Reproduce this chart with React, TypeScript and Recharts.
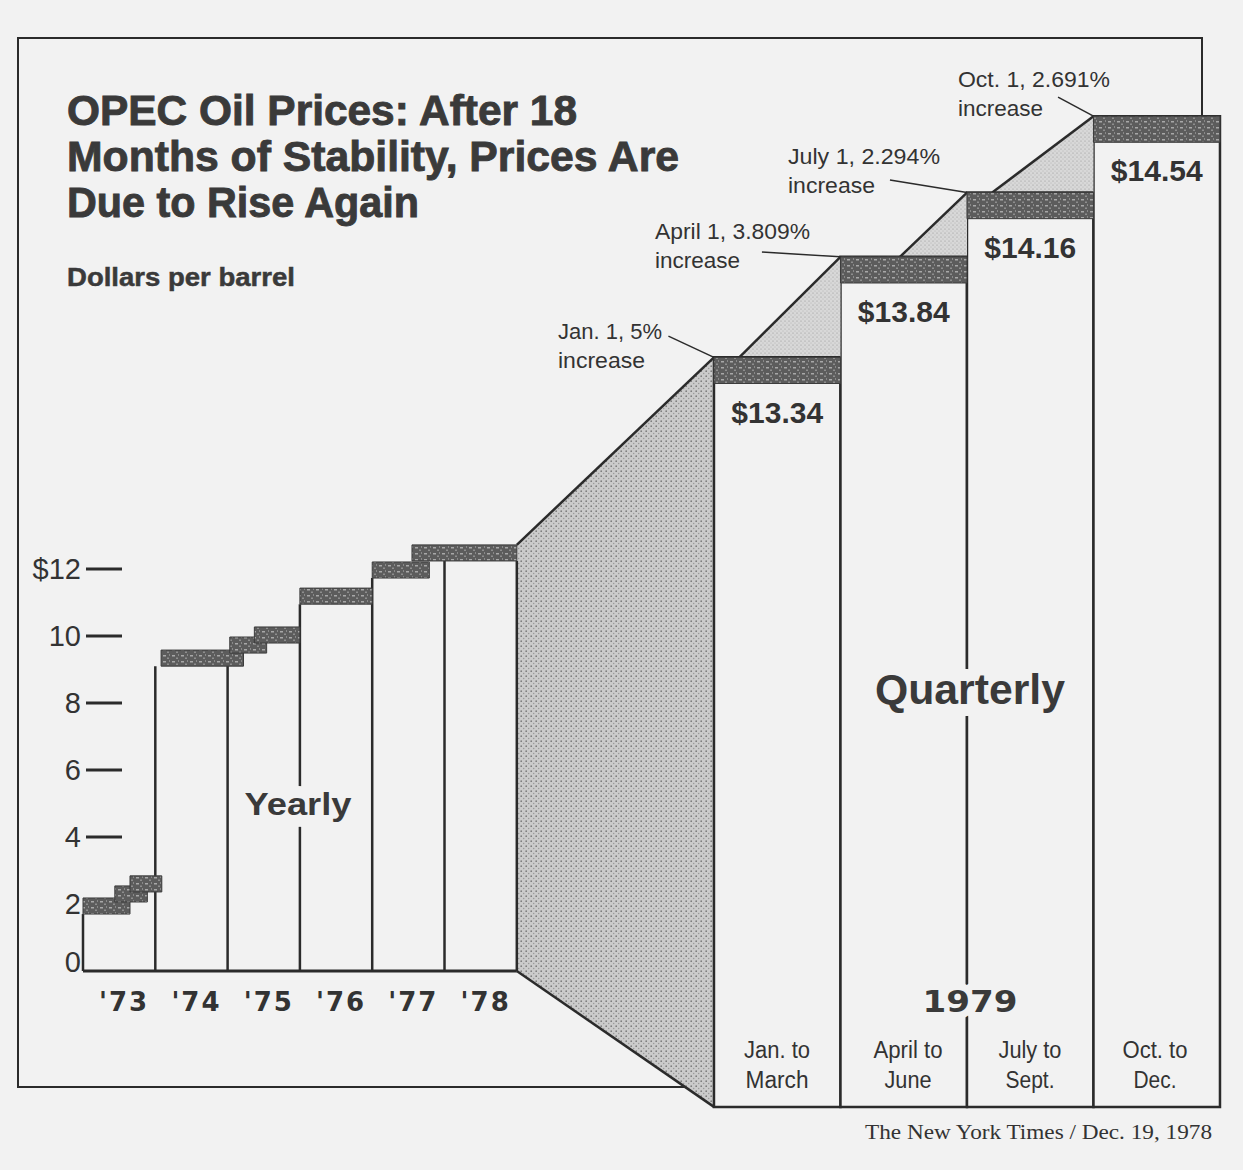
import React from 'react';
import {
  ComposedChart,
  XAxis,
  YAxis,
  Area,
  ReferenceArea,
  ReferenceLine,
} from 'recharts';

const W = 1243;
const H = 1170;
const BG = '#f2f2f2';
const INK = '#2b2b2b';
const TEXT = '#333333';
const SANS = "'Liberation Sans', Arial, sans-serif";
const NARROW = "'Liberation Sans Narrow', 'Liberation Sans', Arial, sans-serif";
const WIDE = "'DejaVu Sans', Verdana, sans-serif";
const SERIF = "'Liberation Serif', 'DejaVu Serif', serif";

// yearly panel, dollars per barrel
const YEARS = [1973, 1974, 1975, 1976, 1977, 1978];
const YEAR_LABELS = ["'73", "'74", "'75", "'76", "'77", "'78"];
const PRICE_TICKS = [0, 2, 4, 6, 8, 10, 12];

// price levels in the yearly panel (from / to as fractional years)
const STEP_FROM = [1973.0, 1973.44, 1973.65, 1974.08, 1975.03, 1975.37, 1976.0, 1977.0, 1977.55];
const STEP_TO = [1973.65, 1973.89, 1974.09, 1975.22, 1975.54, 1976.0, 1977.0, 1977.79, 1979.0];
const STEP_PRICE = [2.18, 2.54, 2.84, 9.58, 9.97, 10.27, 11.43, 12.21, 12.72];

// quarterly panel, 1979
const QUARTER_LABELS = [
  ['Jan. to', 'March'],
  ['April to', 'June'],
  ['July to', 'Sept.'],
  ['Oct. to', 'Dec.'],
];
const Q_PRICES = [13.34, 13.84, 14.16, 14.54];
const Q_PRICE_LABELS = ['$13.34', '$13.84', '$14.16', '$14.54'];
const Q_INCREASES = ['Jan. 1, 5%', 'April 1, 3.809%', 'July 1, 2.294%', 'Oct. 1, 2.691%'];
// where the drawn rise towards the next quarter starts (quarter units)
const Q_RAMP_FROM = [0.2, 1.47, 2.2];

// axis domains (the plot area is the whole picture)
const X_YR: [number, number] = [1971.852, 1989.044];
const Y_YR: [number, number] = [-5.94, 28.985];
const X_Q: [number, number] = [-5.644, 4.182];
const Y_Q: [number, number] = [9.297, 15.118];
const Q_BASE = 9.611;
const YR_BAND = 0.48;
const Q_BAND = 0.13;

const remap = (v: number, from: [number, number], to: [number, number]) =>
  to[0] + ((v - from[0]) * (to[1] - to[0])) / (from[1] - from[0]);

const edgeTop = (b: number) => {
  let top = 0;
  STEP_PRICE.forEach((p, i) => {
    if (STEP_FROM[i] - 0.1 <= b && b <= STEP_TO[i] + 0.001) top = Math.max(top, p - YR_BAND);
  });
  return top;
};

const EDGES = [...YEARS, 1979];

// wedge that links the last yearly level to the first quarter
const CONNECTOR = [
  { x: 1979, r: [0, STEP_PRICE[STEP_PRICE.length - 1]] },
  {
    x: remap(0, X_Q, X_YR),
    r: [remap(Q_BASE, Y_Q, Y_YR), remap(Q_PRICES[0], Y_Q, Y_YR)],
  },
];

const RAMPS = Q_RAMP_FROM.map((from, i) => [
  { x: from, r: [Q_PRICES[i], Q_PRICES[i]] },
  { x: i + 1, r: [Q_PRICES[i], Q_PRICES[i + 1]] },
]);

// annotation leader lines start here (quarter units)
const LEADER_FROM = [
  { x: -0.36, y: 13.446 },
  { x: 0.379, y: 13.864 },
  { x: 1.391, y: 14.222 },
  { x: 2.72, y: 14.635 },
];
const NOTE_POS = [
  { x: 558, y: 339, w: [104, 87] },
  { x: 655, y: 239, w: [155, 85] },
  { x: 788, y: 164, w: [152, 87] },
  { x: 958, y: 87, w: [152, 85] },
];
const QUARTER_TEXT = [
  { x: 777, w: [66, 63] },
  { x: 908, w: [69, 47] },
  { x: 1030, w: [63, 49] },
  { x: 1155, w: [65, 43] },
];

const renderPriceTick = (props: any) => {
  const { y, payload } = props;
  const v = payload.value as number;
  return (
    <g>
      <text
        x={81}
        y={y}
        dy={v === 0 ? 1 : 10}
        textAnchor="end"
        fontSize={29}
        fontFamily={NARROW}
        fill={TEXT}
      >
        {v === 12 ? '$12' : v}
      </text>
      {v > 2 && <line x1={86} x2={122} y1={y} y2={y} stroke={INK} strokeWidth={3} />}
    </g>
  );
};

const renderYearTick = (props: any) => {
  const { x, payload } = props;
  const idx = YEARS.indexOf(Math.floor(payload.value));
  return (
    <text
      x={x + 5}
      y={1011}
      textAnchor="middle"
      fontSize={26}
      fontWeight={700}
      fontFamily={WIDE}
      letterSpacing={2}
      fill={TEXT}
    >
      {YEAR_LABELS[idx]}
    </text>
  );
};

const halo = { stroke: BG, strokeWidth: 24, paintOrder: 'stroke' as const, strokeLinejoin: 'round' as const };

export default function App() {
  return (
    <div
      style={{
        position: 'absolute',
        left: 0,
        top: 0,
        width: W,
        height: H,
        background: BG,
        overflow: 'hidden',
      }}
    >
      <svg width={0} height={0} style={{ position: 'absolute' }}>
        <defs>
          <pattern id="dotsDark" width="5" height="5" patternUnits="userSpaceOnUse">
            <rect width="5" height="5" fill="#cbcbcb" />
            <circle cx="1.2" cy="1.2" r="0.85" fill="#7a7a7a" />
            <circle cx="3.7" cy="3.6" r="0.75" fill="#999999" />
          </pattern>
          <pattern id="dotsLight" width="4" height="4" patternUnits="userSpaceOnUse">
            <rect width="4" height="4" fill="#d8d8d8" />
            <circle cx="1" cy="1" r="0.6" fill="#929292" />
            <circle cx="3" cy="3" r="0.5" fill="#aaaaaa" />
          </pattern>
          <pattern id="band" width="9" height="6" patternUnits="userSpaceOnUse">
            <rect width="9" height="6" fill="#5c5c5c" />
            <rect x="1" y="1" width="3" height="1.5" fill="#a8a8a8" />
            <rect x="5" y="3.5" width="2" height="1.5" fill="#8e8e8e" />
            <rect x="7" y="0.5" width="1" height="1" fill="#b5b5b5" />
          </pattern>
        </defs>
      </svg>

      <div
        style={{
          position: 'absolute',
          left: 17,
          top: 37,
          width: 1186,
          height: 1051,
          border: `2.5px solid ${INK}`,
          boxSizing: 'border-box',
        }}
      />

      <div style={{ position: 'absolute', left: 0, top: 0 }}>
        <ComposedChart width={W} height={H} margin={{ top: 0, right: 0, bottom: 0, left: 0 }}>
          <XAxis
            xAxisId="yr"
            dataKey="x"
            type="number"
            domain={X_YR}
            allowDataOverflow
            mirror
            ticks={YEARS.map((y) => y + 0.5)}
            interval={0}
            axisLine={false}
            tickLine={false}
            tick={renderYearTick}
          />
          <XAxis xAxisId="q" dataKey="x" type="number" domain={X_Q} allowDataOverflow hide />
          <YAxis
            yAxisId="yr"
            type="number"
            domain={Y_YR}
            allowDataOverflow
            mirror
            ticks={PRICE_TICKS}
            interval={0}
            axisLine={false}
            tickLine={false}
            tick={renderPriceTick}
          />
          <YAxis yAxisId="q" type="number" domain={Y_Q} allowDataOverflow hide />

          <Area
            xAxisId="yr"
            yAxisId="yr"
            data={CONNECTOR}
            dataKey="r"
            type="linear"
            fill="url(#dotsDark)"
            fillOpacity={1}
            stroke={INK}
            strokeWidth={2.5}
            dot={false}
            activeDot={false}
            isAnimationActive={false}
            zIndex={101}
          />

          {EDGES.map((b) => (
            <ReferenceLine
              key={`edge-${b}`}
              xAxisId="yr"
              yAxisId="yr"
              segment={[
                { x: b, y: 0 },
                { x: b, y: edgeTop(b) },
              ]}
              stroke={INK}
              strokeWidth={2.5}
              zIndex={102}
            />
          ))}
          <ReferenceLine
            xAxisId="yr"
            yAxisId="yr"
            segment={[
              { x: YEARS[0], y: 0 },
              { x: 1979, y: 0 },
            ]}
            stroke={INK}
            strokeWidth={3}
            zIndex={102}
          />

          {Q_PRICES.map((p, i) => (
            <ReferenceArea
              key={`q-${i}`}
              xAxisId="q"
              yAxisId="q"
              x1={i}
              x2={i + 1}
              y1={Q_BASE}
              y2={p}
              fill={BG}
              fillOpacity={1}
              stroke={INK}
              strokeWidth={2.5}
              zIndex={103}
              label={{
                value: Q_PRICE_LABELS[i],
                position: 'insideTop',
                offset: 44,
                fontSize: 30,
                fontWeight: 700,
                fontFamily: SANS,
                fill: TEXT,
              }}
            />
          ))}

          {RAMPS.map((ramp, i) => (
            <Area
              key={`ramp-${i}`}
              xAxisId="q"
              yAxisId="q"
              data={ramp}
              dataKey="r"
              type="linear"
              fill="url(#dotsLight)"
              fillOpacity={1}
              stroke={INK}
              strokeWidth={2.5}
              dot={false}
              activeDot={false}
              isAnimationActive={false}
              zIndex={104}
            />
          ))}

          {STEP_PRICE.map((p, i) => (
            <ReferenceArea
              key={`step-${i}`}
              xAxisId="yr"
              yAxisId="yr"
              x1={STEP_FROM[i]}
              x2={STEP_TO[i]}
              y1={p - YR_BAND}
              y2={p}
              fill="url(#band)"
              fillOpacity={1}
              stroke="#3c3c3c"
              strokeWidth={1}
              zIndex={105}
            />
          ))}
          {Q_PRICES.map((p, i) => (
            <ReferenceArea
              key={`qband-${i}`}
              xAxisId="q"
              yAxisId="q"
              x1={i}
              x2={i + 1}
              y1={p - Q_BAND}
              y2={p}
              fill="url(#band)"
              fillOpacity={1}
              stroke="#3c3c3c"
              strokeWidth={1}
              zIndex={105}
            />
          ))}

          {LEADER_FROM.map((from, i) => (
            <ReferenceLine
              key={`lead-${i}`}
              xAxisId="q"
              yAxisId="q"
              segment={[from, { x: i, y: Q_PRICES[i] }]}
              stroke={INK}
              strokeWidth={1.5}
              zIndex={106}
            />
          ))}
        </ComposedChart>
      </div>

      <svg
        width={W}
        height={H}
        style={{ position: 'absolute', left: 0, top: 0, pointerEvents: 'none' }}
      >
        <g
          fontFamily={NARROW}
          fontWeight={700}
          fill="#3a3a3a"
          stroke="#3a3a3a"
          strokeWidth={0.9}
          fontSize={42}
        >
          <text x={67} y={125} textLength={510} lengthAdjust="spacingAndGlyphs">
            OPEC Oil Prices: After 18
          </text>
          <text x={67} y={171} textLength={612} lengthAdjust="spacingAndGlyphs">
            Months of Stability, Prices Are
          </text>
          <text x={67} y={217} textLength={352} lengthAdjust="spacingAndGlyphs">
            Due to Rise Again
          </text>
          <text
            x={67}
            y={286}
            fontSize={26}
            strokeWidth={0.5}
            textLength={228}
            lengthAdjust="spacingAndGlyphs"
          >
            Dollars per barrel
          </text>
        </g>

        <g fontFamily={NARROW} fontSize={22} fill={TEXT}>
          {Q_INCREASES.map((t, i) => (
            <g key={t}>
              <text
                x={NOTE_POS[i].x}
                y={NOTE_POS[i].y}
                textLength={NOTE_POS[i].w[0]}
                lengthAdjust="spacingAndGlyphs"
              >
                {t}
              </text>
              <text
                x={NOTE_POS[i].x}
                y={NOTE_POS[i].y + 29}
                textLength={NOTE_POS[i].w[1]}
                lengthAdjust="spacingAndGlyphs"
              >
                increase
              </text>
            </g>
          ))}
        </g>

        <g fontFamily={NARROW} fontSize={23} fill={TEXT} textAnchor="middle">
          {QUARTER_LABELS.map((lines, i) => (
            <g key={lines[0]}>
              <text
                x={QUARTER_TEXT[i].x}
                y={1058}
                textLength={QUARTER_TEXT[i].w[0]}
                lengthAdjust="spacingAndGlyphs"
              >
                {lines[0]}
              </text>
              <text
                x={QUARTER_TEXT[i].x}
                y={1088}
                textLength={QUARTER_TEXT[i].w[1]}
                lengthAdjust="spacingAndGlyphs"
              >
                {lines[1]}
              </text>
            </g>
          ))}
        </g>

        <text
          x={298}
          y={815}
          textAnchor="middle"
          fontFamily={SANS}
          fontWeight={700}
          fontSize={31}
          fill="#3a3a3a"
          textLength={107}
          lengthAdjust="spacingAndGlyphs"
          {...halo}
        >
          Yearly
        </text>
        <text
          x={970}
          y={704}
          textAnchor="middle"
          fontFamily={SANS}
          fontWeight={700}
          fontSize={42}
          fill="#3a3a3a"
          textLength={190}
          lengthAdjust="spacingAndGlyphs"
          {...halo}
        >
          Quarterly
        </text>
        <text
          x={970}
          y={1012}
          textAnchor="middle"
          fontFamily={WIDE}
          fontWeight={700}
          fontSize={31}
          fill="#3a3a3a"
          textLength={95}
          lengthAdjust="spacingAndGlyphs"
          {...halo}
          strokeWidth={14}
        >
          1979
        </text>

        <text
          x={865}
          y={1139}
          fontFamily={SERIF}
          fontSize={20}
          fill={TEXT}
          textLength={347}
          lengthAdjust="spacingAndGlyphs"
        >
          The New York Times / Dec. 19, 1978
        </text>
      </svg>
    </div>
  );
}
